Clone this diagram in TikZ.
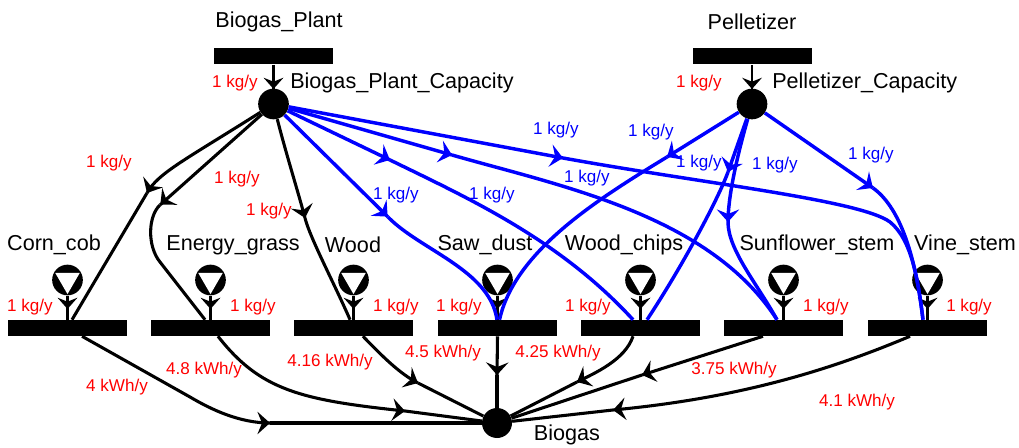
\documentclass[tikz,border=0pt]{standalone}
\usepackage{fontspec}
\setmainfont{Liberation Sans}
\usetikzlibrary{decorations.markings}
\begin{document}
\begin{tikzpicture}[x=0.75pt,y=-0.75pt,
  feed/.style={rectangle,fill=black,minimum width=89.25pt,minimum height=12pt,inner sep=0pt},
  hub/.style={circle,fill=black,minimum size=23pt,inner sep=0pt},
  valve/.style={circle,fill=black,minimum size=23pt,inner sep=0pt,
    path picture={\fill[white] ([shift={(150:10.6pt)}]path picture bounding box.center)
      -- ([shift={(30:10.6pt)}]path picture bounding box.center)
      -- ([shift={(270:10.6pt)}]path picture bounding box.center) -- cycle;}},
  lab/.style={inner sep=0pt,font=\fontsize{16.2}{19}\selectfont},
  rl/.style={inner sep=0pt,text=red,font=\fontsize{12.8}{15}\selectfont},
  bl/.style={inner sep=0pt,text=blue,font=\fontsize{12.8}{15}\selectfont},
  blk/.style={draw=black,line width=2.3pt},
  blu/.style={draw=blue,line width=2.6pt},
  ah/.style={postaction={decorate,decoration={markings,
    mark=at position 1 with {\fill[#1] (0pt,0pt) -- (-9.5pt,8.5pt) -- (-6pt,0pt) -- (-9.5pt,-8.5pt) -- cycle;}}}},
  sah/.style={postaction={decorate,decoration={markings,
    mark=at position 1 with {\fill[black] (0pt,0pt) -- (-8.5pt,7.5pt) -- (-5.5pt,0pt) -- (-8.5pt,-7.5pt) -- cycle;}}}},
]
\useasboundingbox (0,0) rectangle (1019,448);

% ---------- nodes ----------
\node[feed] (bp) at (273.5,56.5) {};
\node[feed] (pe) at (752,56.5) {};
\node[hub] (bpc) at (273.5,104) {};
\node[hub] (pc) at (752,104) {};
\node[hub,minimum size=22.5pt] (bg) at (497,423) {};

\foreach \i/\x in {1/67.5,2/210.5,3/353.5,4/497.5,5/640.5,6/783.5,7/927.5}{
  \node[feed] (b\i) at (\x,328) {};
  \node[valve] (v\i) at (\x,280) {};
  \coordinate (av\i) at (\x,309);
}
\coordinate (abp) at (273.5,89);
\coordinate (ape) at (752,89);

% arrow points
\coordinate (aC1) at (147,193);
\coordinate (aC2) at (160,205);
\coordinate (aC3) at (305,218);
\coordinate (aB1) at (388,217);
\coordinate (aB2) at (390,160);
\coordinate (aB3) at (452,155);
\coordinate (aB4) at (563,158);
\coordinate (aP1) at (667,157);
\coordinate (aP2) at (728,172);
\coordinate (aP3) at (728,222);
\coordinate (aP4) at (873,188);
\coordinate (aG1) at (270,423);
\coordinate (aG2) at (405,411);
\coordinate (aG3) at (418,383);
\coordinate (aG4) at (497,375);
\coordinate (aG5) at (577,382);
\coordinate (aG6) at (642,375);
\coordinate (aG7) at (613,410);

% ---------- texts ----------
\node[lab] (tBP) at (279,22) {Biogas\_Plant};
\node[lab,anchor=west] (tBPC) at (290,83) {Biogas\_Plant\_Capacity};
\node[lab] (tPE) at (752,22) {Pelletizer};
\node[lab,anchor=west] (tPC) at (772,83) {Pelletizer\_Capacity};
\node[lab] (t1) at (54,245) {Corn\_cob};
\node[lab] (t2) at (233,245) {Energy\_grass};
\node[lab] (t3) at (353,245) {Wood};
\node[lab] (t4) at (485,245) {Saw\_dust};
\node[lab] (t5) at (624,245) {Wood\_chips};
\node[lab] (t6) at (817,245) {Sunflower\_stem};
\node[lab] (t7) at (965,245) {Vine\_stem};
\node[lab] (tBG) at (567,435) {Biogas};

\node[rl] at (235,83) {1 kg/y};
\node[rl] at (699,83) {1 kg/y};
\node[rl] at (109,163) {1 kg/y};
\node[rl] at (237,179) {1 kg/y};
\node[rl] at (269,211) {1 kg/y};
\node[rl] at (30,307) {1 kg/y};
\node[rl] at (253,307) {1 kg/y};
\node[rl] at (396,307) {1 kg/y};
\node[rl] at (459,307) {1 kg/y};
\node[rl] at (588,307) {1 kg/y};
\node[rl] at (826,307) {1 kg/y};
\node[rl] at (969,307) {1 kg/y};
\node[rl] at (117,387) {4 kWh/y};
\node[rl] at (204,370) {4.8 kWh/y};
\node[rl] at (330,362) {4.16 kWh/y};
\node[rl] at (443,353) {4.5 kWh/y};
\node[rl] at (558,353) {4.25 kWh/y};
\node[rl] at (734,370) {3.75 kWh/y};
\node[rl] at (857,402) {4.1 kWh/y};

\node[bl] at (396,195) {1 kg/y};
\node[bl] at (492,195) {1 kg/y};
\node[bl] at (587,178) {1 kg/y};
\node[bl] at (556,130) {1 kg/y};
\node[bl] at (651,132) {1 kg/y};
\node[bl] at (699,163) {1 kg/y};
\node[bl] at (775,165) {1 kg/y};
\node[bl] at (871,155) {1 kg/y};

% ---------- top feeds ----------
\draw[blk,line width=1.8pt,sah] (bp.south) -- (abp);
\draw[blk,line width=1.8pt,sah] (pe.south) -- (ape);

% ---------- valve stems ----------
\foreach \i in {1,...,7}{
  \draw[blk,line width=1.6pt,sah] (v\i) -- (av\i);
  \draw[blk,line width=1.6pt] (av\i) -- (b\i.north);
}

% ---------- black from Biogas_Plant_Capacity ----------
\draw[blk,ah=black] (bpc) .. controls (185,160) and (158,173) .. (aC1);
\draw[blk] (aC1) -- ([xshift=3.4pt]b1.north);
\draw[blk,ah=black] (bpc) -- (aC2);
\draw[blk] (aC2) .. controls (148,216) and (147,246) .. (160,262) -- ([xshift=-4.1pt]b2.north);
\draw[blk,ah=black] (bpc) .. controls (285,150) and (299,195) .. (aC3);
\draw[blk] (aC3) .. controls (310,238) and (335,285) .. ([xshift=-2.6pt]b3.north);

% ---------- blue from Biogas_Plant_Capacity ----------
\draw[blu,ah=blue] (bpc) -- (aB1);
\draw[blu] (aB1) .. controls (420,250) and (490,270) .. ([xshift=-0.4pt]b4.north);
\draw[blu,ah=blue] (bpc) -- (aB2);
\draw[blu] (aB2) .. controls (470,199) and (560,240) .. ([xshift=-5.6pt]b5.north);
\draw[blu,ah=blue] (bpc) -- (aB3);
\draw[blu] (aB3) .. controls (560,186) and (710,215) .. ([xshift=-4.9pt]b6.north);
\draw[blu,ah=blue] (bpc) -- (aB4);
\draw[blu] (aB4) .. controls (700,183) and (860,200) .. (890,222)
  .. controls (912,240) and (918,280) .. ([xshift=-3.4pt]b7.north);

% ---------- blue from Pelletizer_Capacity ----------
\draw[blu,ah=blue] (pc) -- (aP1);
\draw[blu] (aP1) .. controls (600,198) and (515,250) .. ([xshift=1.5pt]b4.north);
\draw[blu,ah=blue] (pc) -- (aP2);
\draw[blu] (aP2) .. controls (719,197) and (685,262) .. ([xshift=4.9pt]b5.north);
\draw[blu,ah=blue] (pc) .. controls (736,160) and (728,198) .. (aP3);
\draw[blu] (aP3) .. controls (728,250) and (758,285) .. ([xshift=-4.9pt]b6.north);
\draw[blu,ah=blue] (pc) -- (aP4);
\draw[blu] (aP4) .. controls (898,206) and (915,250) .. ([xshift=-3.4pt]b7.north);

% ---------- black to Biogas ----------
\draw[blk,ah=black] ([xshift=10.9pt]b1.south) -- (190,397) .. controls (212,410) and (240,423) .. (aG1);
\draw[blk] (aG1) -- (bg);
\draw[blk,ah=black] ([xshift=5.6pt]b2.south) .. controls (260,390) and (300,400) .. (aG2);
\draw[blk] (aG2) -- (bg);
\draw[blk,ah=black] ([xshift=7.1pt]b3.south) .. controls (382,356) and (400,374) .. (aG3);
\draw[blk] (aG3) -- (bg);
\draw[blk,ah=black] (b4.south) -- (aG4);
\draw[blk] (aG4) -- (bg);
\draw[blk,ah=black] ([xshift=-5.6pt]b5.south) .. controls (625,360) and (595,373) .. (aG5);
\draw[blk] (aG5) -- (bg);
\draw[blk,ah=black] ([xshift=-15.4pt]b6.south) -- (aG6);
\draw[blk] (aG6) -- (bg);
\draw[blk,ah=black] ([xshift=-13.1pt]b7.south) .. controls (830,370) and (740,398) .. (aG7);
\draw[blk] (aG7) -- (bg);
\end{tikzpicture}
\end{document}
